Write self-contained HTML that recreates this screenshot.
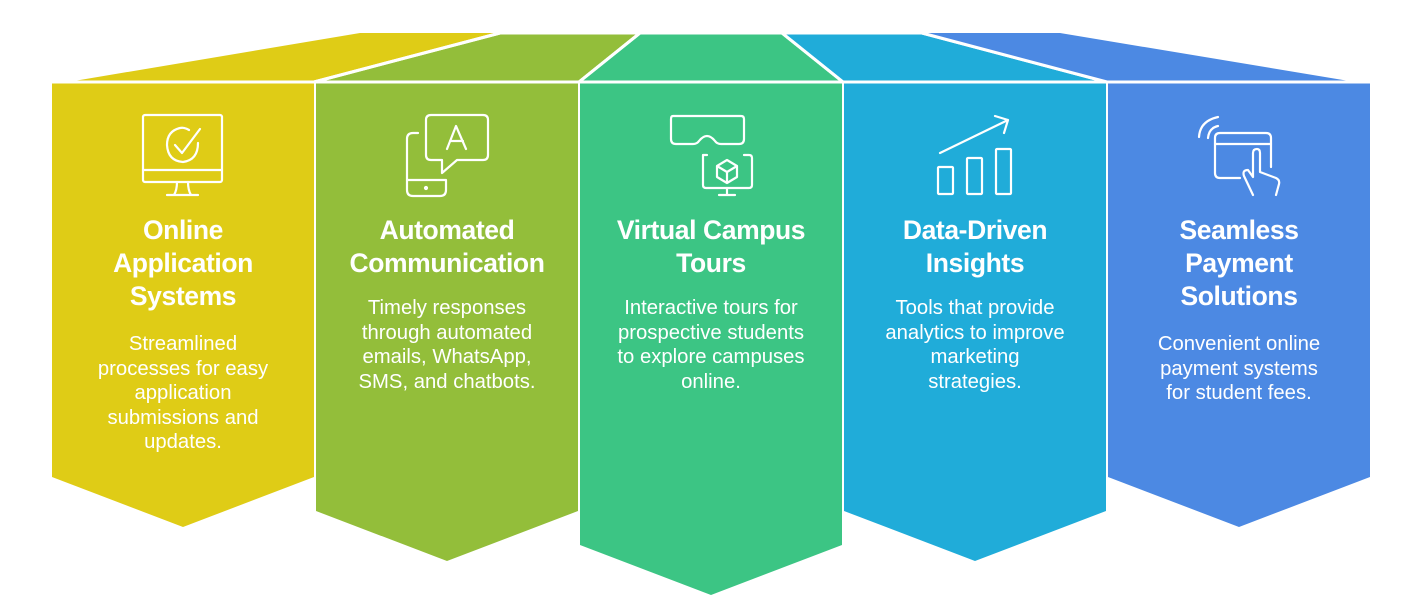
<!DOCTYPE html>
<html><head><meta charset="utf-8"><style>
body{margin:0;width:1422px;height:615px;background:#fff;position:relative;overflow:hidden;font-family:"Liberation Sans",Arial,sans-serif;}
svg{position:absolute;left:0;top:0}
.t{position:absolute;color:#fff;text-align:center;width:262px;}
.h{font-weight:bold;font-size:26.5px;line-height:33px;letter-spacing:-0.4px}
.b{font-size:20.3px;line-height:24.5px}
</style></head><body>
<svg width="1422" height="615" viewBox="0 0 1422 615">
<g stroke="#fff" stroke-width="3" stroke-linejoin="miter">
<polygon points="68,82 360,33 500,33 314,82" fill="#DFCC16" stroke="none"/>
<polygon points="314,82 500,33 640,33 579,82" fill="#93BE3A"/>
<polygon points="579,82 640,33 782,33 843,82" fill="#3CC584"/>
<polygon points="843,82 782,33 922,33 1107,82" fill="#20ACD9"/>
<polygon points="1107,82 922,33 1060,33 1355,82" fill="#4C89E3" stroke="none"/>
<line x1="314" y1="82" x2="500" y2="33"/>
<line x1="579" y1="82" x2="640" y2="33"/>
<line x1="843" y1="82" x2="782" y2="33"/>
<line x1="1107" y1="82" x2="922" y2="33"/>
</g>
<polygon points="52,82 314,82 314,477 183,527 52,477" fill="#DFCC16"/>
<polygon points="316,82 578,82 578,511 447,561 316,511" fill="#93BE3A"/>
<polygon points="580,82 842,82 842,545 711,595 580,545" fill="#3CC584"/>
<polygon points="844,82 1106,82 1106,511 975,561 844,511" fill="#20ACD9"/>
<polygon points="1108,82 1370,82 1370,477 1239,527 1108,477" fill="#4C89E3"/>
<line x1="52" y1="82" x2="1370" y2="82" stroke="#fff" stroke-width="3"/>
<g fill="none" stroke="#fff" stroke-width="2.2" stroke-linecap="round" stroke-linejoin="round">
<!-- monitor -->
<rect x="143" y="115" width="79" height="67" rx="2"/>
<line x1="143" y1="170" x2="222" y2="170"/>
<path d="M177 182 Q177 190 174 195 M188 182 Q188 190 191 195 M167 195 L198 195"/>
<path d="M189 130 Q184 127 180 128 Q167 131 167 145 Q168 161 183 162 Q198 160 198 143"/>
<path d="M175 145 L182 153 L200 129"/>
<!-- phone + bubble -->
<path d="M418 133 L413 133 Q407 133 407 139 L407 190 Q407 196 413 196 L440 196 Q446 196 446 190 L446 180 L407 180"/>
<circle cx="426" cy="188" r="1" fill="#fff"/>
<path d="M431 115 L483 115 Q488 115 488 120 L488 155 Q488 160 483 160 L457 160 L442 173 L442 160 L431 160 Q426 160 426 155 L426 120 Q426 115 431 115 Z"/>
<path d="M447 149 L456 126 L466 149 M450 141 L463 141"/>
<!-- VR -->
<path d="M673 116 L741 116 Q744 116 744 119 L744 139 Q744 144 739 144 L721 144 Q717 144 715 141 Q711 136 707 136 Q703 136 699 141 Q697 144 693 144 L676 144 Q671 144 671 139 L671 119 Q671 116 673 116 Z"/>
<path d="M707 155 L703 155 Q703 155 703 158 L703 185 Q703 188 706 188 L749 188 Q752 188 752 185 L752 158 Q752 155 749 155 L744 155"/>
<path d="M727 188 L727 195 M719 195 L735 195"/>
<path d="M727 160 L737 166 L737 177 L727 183 L717 177 L717 166 Z M717 166 L727 172 L737 166 M727 172 L727 183"/>
<!-- chart -->
<path d="M940 153 L1008 120 M995 116 L1008 120 L1004 133"/>
<rect x="938" y="167" width="15" height="27" rx="1"/>
<rect x="967" y="158" width="15" height="36" rx="1"/>
<rect x="996" y="149" width="15" height="45" rx="1"/>
<!-- payment -->
<path d="M1199 137 Q1200 121 1218 117 M1208 138 Q1209 128 1218 126"/>
<path d="M1271 167 L1271 138 Q1271 133 1266 133 L1220 133 Q1215 133 1215 138 L1215 173 Q1215 178 1220 178 L1240 178"/>
<line x1="1215" y1="144" x2="1271" y2="144"/>
<path d="M1253 195 L1244 176 Q1242 170 1248 170 L1253 177 L1253 153 Q1253 149 1257 149 Q1260 149 1260 153 L1260 172 L1276 178 Q1280 180 1279 184 L1276 195"/>
</g>
</svg>
<div class="t h" style="left:52px;top:214px">Online<br>Application<br>Systems</div>
<div class="t b" style="left:52px;top:332px">Streamlined<br>processes for easy<br>application<br>submissions and<br>updates.</div>
<div class="t h" style="left:316px;top:214px">Automated<br>Communication</div>
<div class="t b" style="left:316px;top:296px">Timely responses<br>through automated<br>emails, WhatsApp,<br>SMS, and chatbots.</div>
<div class="t h" style="left:580px;top:214px">Virtual Campus<br>Tours</div>
<div class="t b" style="left:580px;top:296px">Interactive tours for<br>prospective students<br>to explore campuses<br>online.</div>
<div class="t h" style="left:844px;top:214px">Data-Driven<br>Insights</div>
<div class="t b" style="left:844px;top:296px">Tools that provide<br>analytics to improve<br>marketing<br>strategies.</div>
<div class="t h" style="left:1108px;top:214px">Seamless<br>Payment<br>Solutions</div>
<div class="t b" style="left:1108px;top:332px">Convenient online<br>payment systems<br>for student fees.</div>
</body></html>
